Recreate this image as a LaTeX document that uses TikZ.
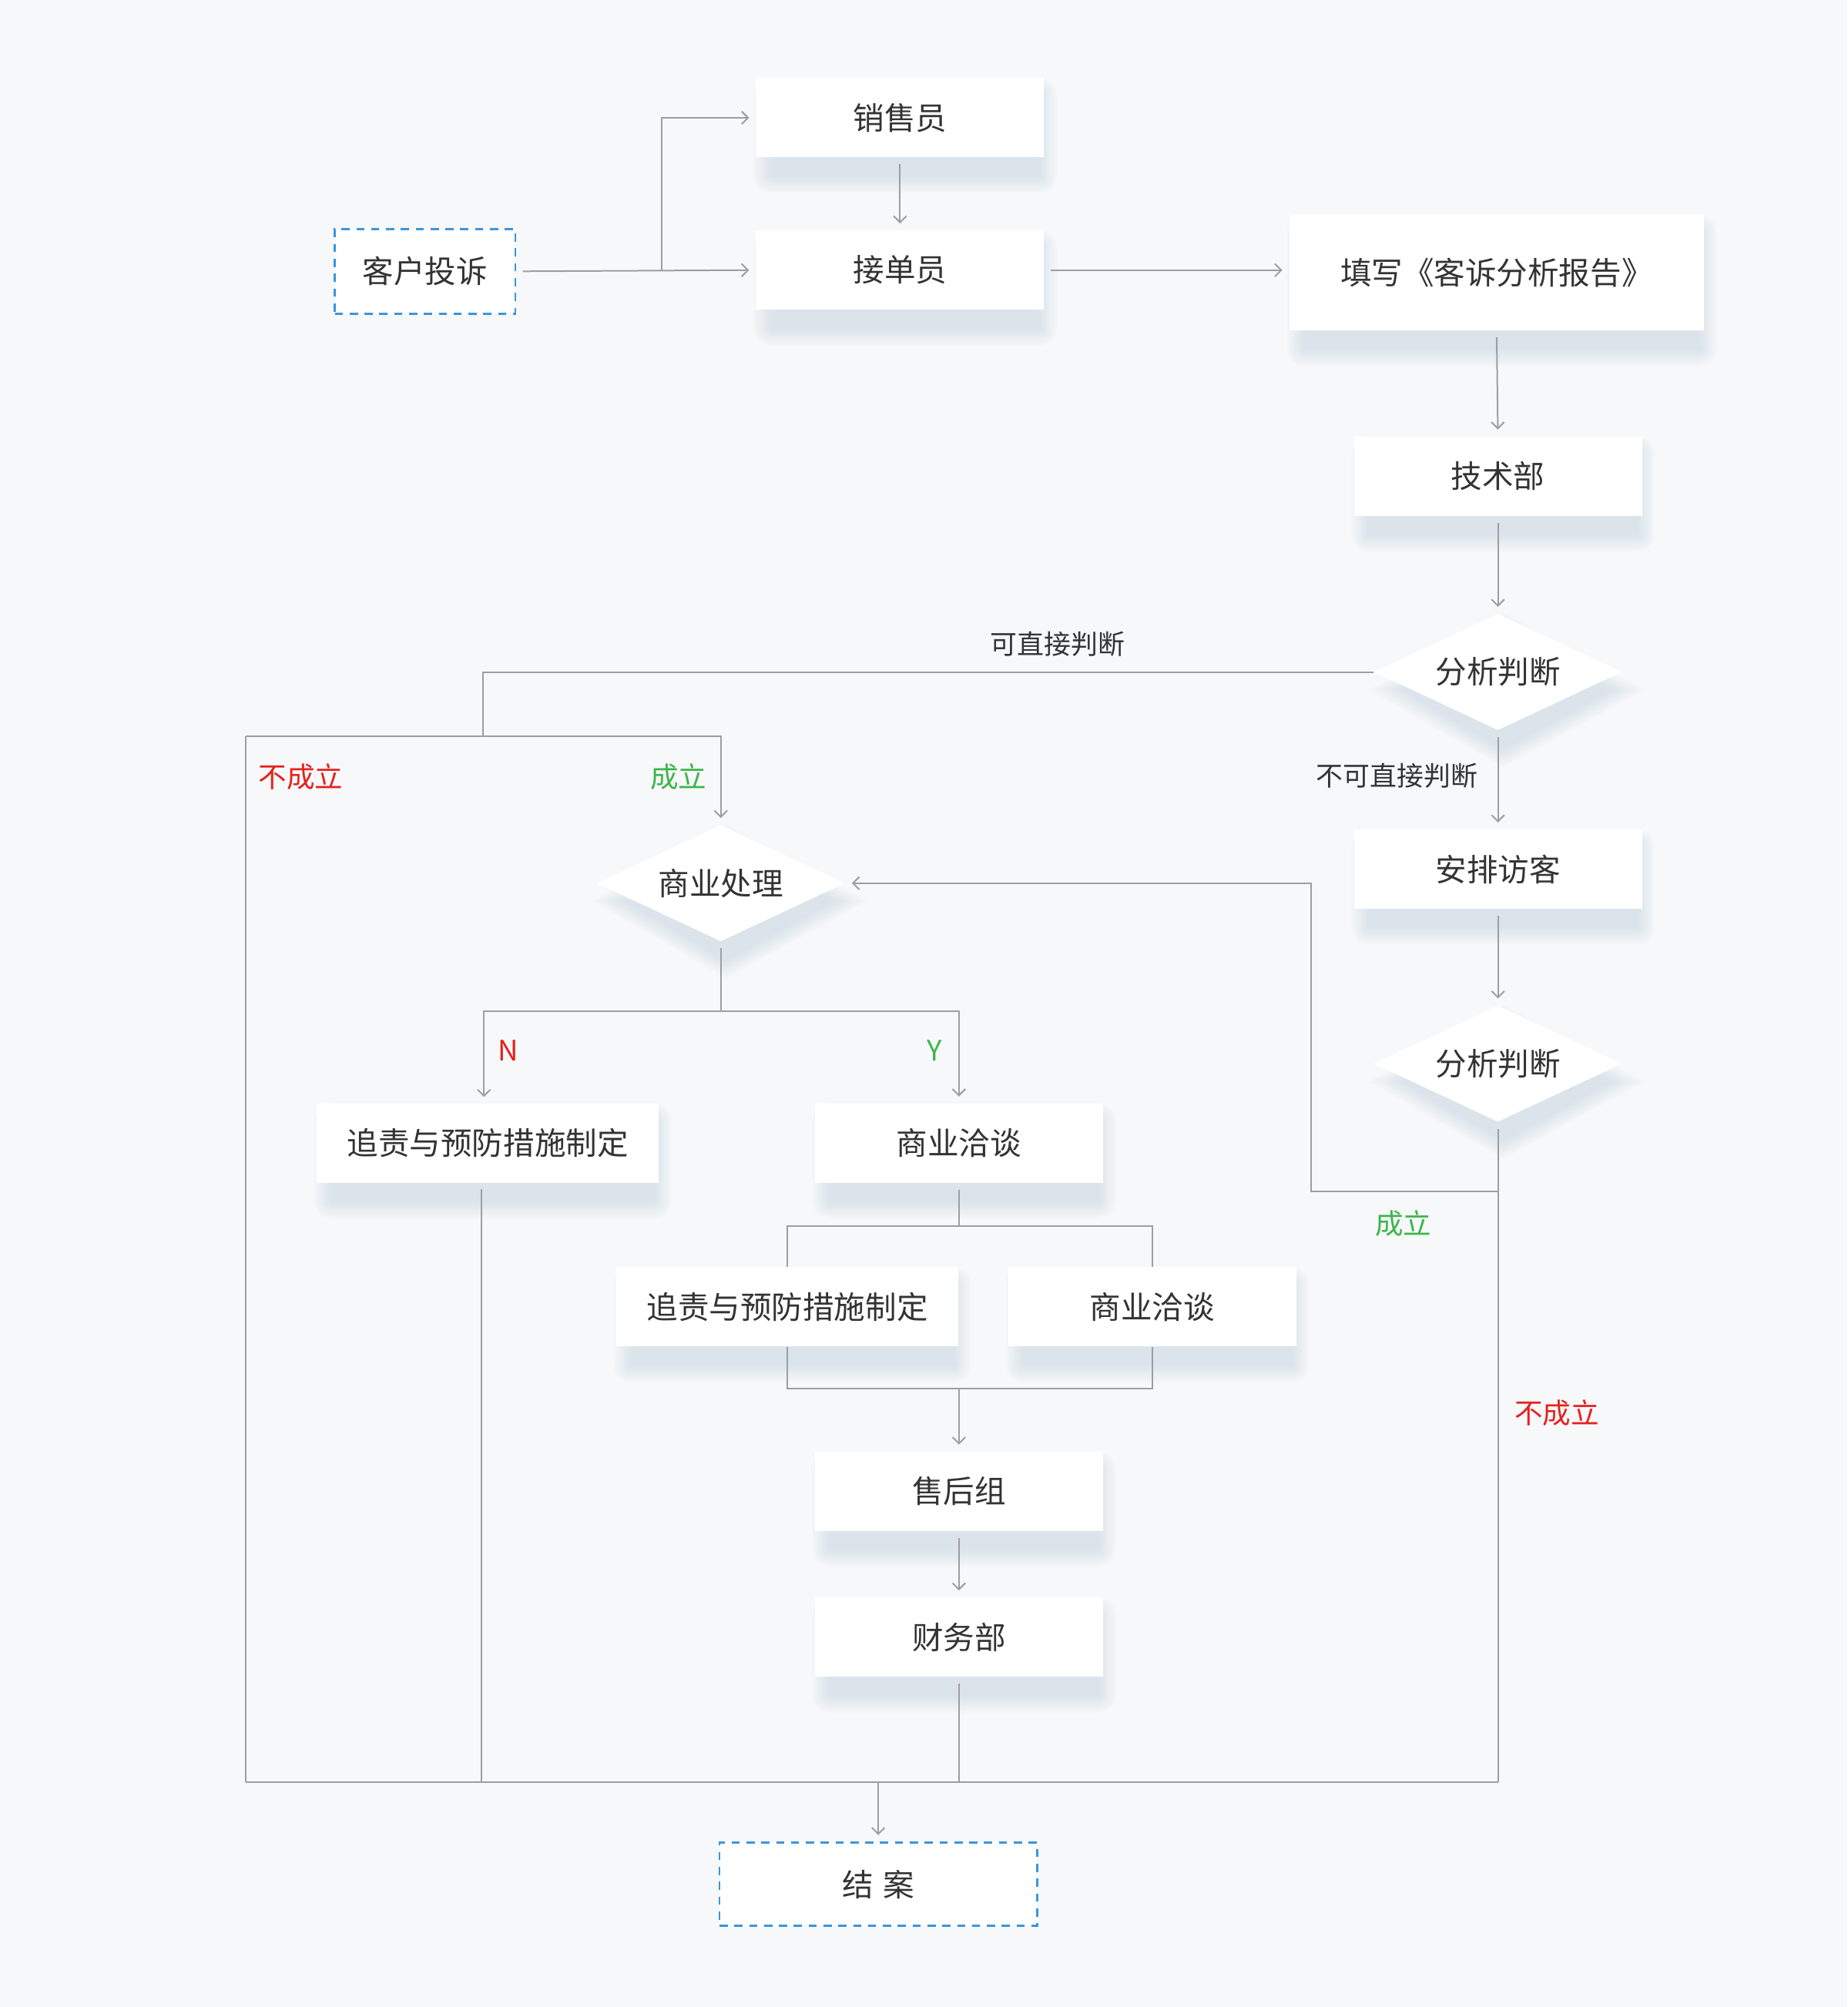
\documentclass[tikz,border=0pt]{standalone}
\usepackage{fontspec}
\setmainfont{Noto Sans CJK SC}
\usetikzlibrary{arrows.meta,shapes.geometric,calc}
\definecolor{bg}{HTML}{F6F8FA}
\definecolor{ln}{HTML}{9E9E9E}
\definecolor{tx}{HTML}{333333}
\definecolor{dblue}{HTML}{3A96DD}
\definecolor{rd}{HTML}{E5211D}
\definecolor{gr}{HTML}{3DB54A}
\definecolor{shd}{HTML}{A9BDD4}
\pgfdeclarelayer{backlayer}
\pgfdeclarelayer{shadowlayer}
\pgfsetlayers{backlayer,shadowlayer,main}
\tikzset{
  box/.style={fill=white, draw=none, text=tx, font=\fontsize{12.2}{14}\selectfont,
    minimum width=112.5pt, minimum height=31pt, inner sep=0pt},
  dbox/.style={fill=white, draw=dblue, dash pattern=on 3.2pt off 2.6pt, line width=0.85pt, text=tx,
    font=\fontsize{12.2}{14}\selectfont, inner sep=0pt},
  dia/.style={diamond, fill=white, draw=none, text=tx, font=\fontsize{12.2}{14}\selectfont,
    minimum width=97pt, minimum height=45.5pt, inner sep=0pt, aspect=2.1},
  line/.style={draw=ln, line width=0.6pt},
  arr/.style={line, -{Straight Barb[length=2.5pt,width=5pt]}, shorten >=2.5pt},
  lbl/.style={text=tx, font=\fontsize{10.5}{12}\selectfont, inner sep=0pt},
  rlbl/.style={text=rd, font=\fontsize{11}{13}\selectfont, inner sep=0pt},
  glbl/.style={text=gr, font=\fontsize{11}{13}\selectfont, inner sep=0pt},
  shlayer/.style={fill=shd, fill opacity=0.035},
}
% soft shadow under a rectangular node
\newcommand{\rshad}[1]{%
  \begin{pgfonlayer}{shadowlayer}
  \foreach \k in {0,...,9}{
    \fill[shlayer, rounded corners={\k*0.75pt}]
      ($(#1.south west)+({6pt-\k*0.75pt},{-7pt-\k*0.75pt})$) rectangle
      ($(#1.north east)+({-2pt+\k*0.75pt},{-7pt+\k*0.75pt})$);
  }
  \end{pgfonlayer}}
% soft shadow under a diamond node
\newcommand{\dshad}[1]{%
  \begin{pgfonlayer}{shadowlayer}
  \foreach \k in {0,...,9}{
    \fill[shlayer]
      ($(#1.north)+({2pt},{-7pt+\k*0.8pt})$) --
      ($(#1.east)+({-5pt+\k*1.5pt},{-7pt})$) --
      ($(#1.south)+({2pt},{-7pt-\k*0.8pt})$) --
      ($(#1.west)+({12pt-\k*1.5pt},{-7pt})$) -- cycle;
  }
  \end{pgfonlayer}}
\begin{document}
\begin{tikzpicture}[x=0.5pt,y=-0.5pt]
\begin{pgfonlayer}{backlayer}
\path[fill=bg] (0,0) rectangle (1443,1568);
\end{pgfonlayer}
\useasboundingbox (0,0) rectangle (1443,1568);

% nodes
\node[dbox, minimum width=70.5pt, minimum height=33pt] (kh) at (332,212) {客户投诉};
\node[box] (xs) at (703,92) {销售员};
\node[box] (jd) at (703,211) {接单员};
\node[box, minimum width=162pt, minimum height=45pt] (tb) at (1169,213) {填写《客诉分析报告》};
\node[box] (js) at (1170,372) {技术部};
\node[dia] (d1) at (1170,525) {分析判断};
\node[box] (ap) at (1170,679) {安排访客};
\node[dia] (d2) at (1170,831) {分析判断};
\node[dia] (sy) at (563,690) {商业处理};
\node[box, minimum width=133.5pt] (zz1) at (381,893) {追责与预防措施制定};
\node[box] (sq1) at (749,893) {商业洽谈};
\node[box, minimum width=133.5pt] (zz2) at (615,1021) {追责与预防措施制定};
\node[box] (sq2) at (900,1021) {商业洽谈};
\node[box] (sh) at (749,1165) {售后组};
\node[box] (cw) at (749,1279) {财务部};
\node[dbox, minimum width=124pt, minimum height=32.5pt] (ja) at (686,1472) {结\hspace{0.3em}案};

% shadows
\rshad{xs}\rshad{jd}\rshad{tb}\rshad{js}\rshad{ap}
\rshad{zz1}\rshad{sq1}\rshad{zz2}\rshad{sq2}\rshad{sh}\rshad{cw}
\dshad{d1}\dshad{d2}\dshad{sy}

% coordinates
\coordinate (b1) at (517,212);
\coordinate (cT) at (377,575);
\coordinate (cL) at (192,575);
\coordinate (cBL) at (192,1392);
\coordinate (cBR) at (1170,1392);
\coordinate (cJ) at (1170,931);
\coordinate (k1) at (1024,931);
\coordinate (sm) at (563,790);
\coordinate (m2) at (749,958);
\coordinate (m3) at (749,1085);
\coordinate (ce) at (686,1392);
\coordinate (zt) at (378,862);
\coordinate (zb) at (376,924);

% connectors
\draw[arr, shorten <=2.5pt] (kh.east) -- (jd.west);
\draw[arr] (b1) |- (xs.west);
\draw[arr, shorten <=2.5pt] (xs.south) -- (jd.north);
\draw[arr, shorten <=2.5pt] (jd.east) -- (jd.east -| tb.west);
\draw[arr, shorten <=2.5pt] (tb.south) -- (js.north);
\draw[arr, shorten <=2.5pt] (js.south) -- (d1.north);
\draw[line] (d1.west) -| (cT);
\draw[arr] (cL) -| (sy.north);
\draw[line] (cL) -- (cBL);
\draw[arr, shorten <=2.5pt] (d1.south) -- (ap.north);
\draw[arr, shorten <=2.5pt] (ap.south) -- (d2.north);
\draw[line, shorten <=2.5pt] (d2.south) -- (cBR);
\draw[arr] (cJ) -- (k1) |- (sy.east);
\draw[line, shorten <=2.5pt] (sy.south) -- (sm);
\draw[arr] (sm) -| (zt);
\draw[arr] (sm) -| (sq1.north);
\draw[line, shorten <=2.5pt] (sq1.south) -- (m2);
\draw[line] (m2) -| (zz2.north);
\draw[line] (m2) -| (sq2.north);
\draw[line] (zz2.south) |- (m3) -| (sq2.south);
\draw[arr] (m3) -- (sh.north);
\draw[arr, shorten <=2.5pt] (sh.south) -- (cw.north);
\draw[line, shorten <=2.5pt] (cw.south) -- (cw.south |- cBL);
\draw[line, shorten <=2.5pt] (zb) -- (zb |- cBL);
\draw[line] (cBL) -- (cBR);
\draw[arr] (ce) -- (ja.north);

% labels
\node[lbl] (l1) at (826,503) {可直接判断};
\node[lbl] (l2) at (1091,606) {不可直接判断};
\node[rlbl] (l3) at (235,607) {不成立};
\node[glbl] (l4) at (530,607) {成立};
\node[rlbl] (l5) at (397,821) {N};
\node[glbl] (l6) at (730,821) {Y};
\node[glbl] (l7) at (1096,956) {成立};
\node[rlbl] (l8) at (1216,1104) {不成立};
\end{tikzpicture}
\end{document}
